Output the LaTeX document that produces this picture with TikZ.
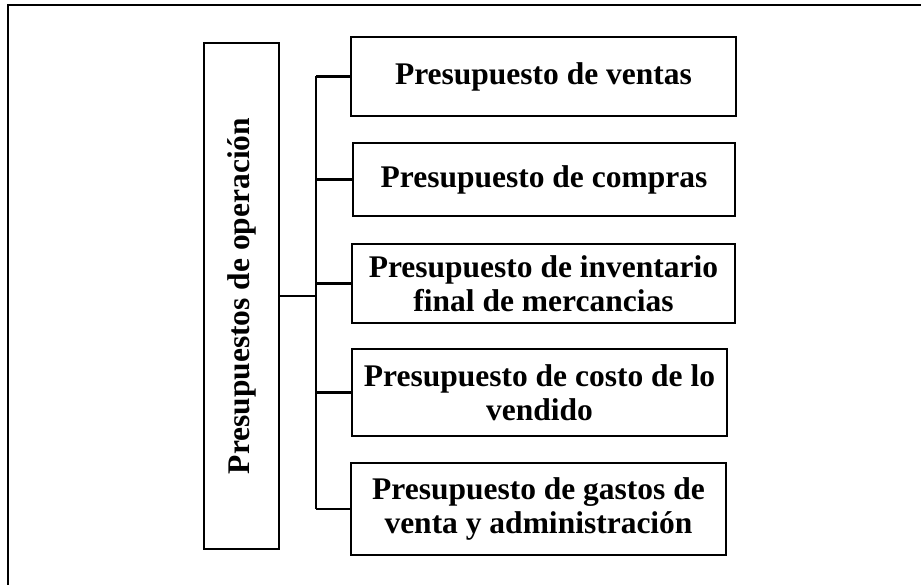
\documentclass[tikz,border=0pt]{standalone}
\usepackage{fontspec}
\setmainfont{Liberation Serif}
\begin{document}
\begin{tikzpicture}[x=1pt,y=-1pt,
  box/.style={draw=black,line width=2.5pt,inner sep=0pt,align=center,
    font=\fontsize{31.5}{34}\selectfont\bfseries},
  conn/.style={draw=black,line width=2.5pt},
  frameline/.style={draw=black,line width=1.5pt}]
\useasboundingbox (0,0) rectangle (921,585);
\draw[frameline] (8,585) -- (8,5) -- (921,5);
\node[box,minimum width=75pt,minimum height=506pt] (main) at (241.5,296)
  {\rotatebox{90}{Presupuestos de operación}};
\node[box,minimum width=385pt,minimum height=79pt] (b1) at (543.5,76.5) {Presupuesto de ventas};
\node[box,minimum width=382pt,minimum height=73pt] (b2) at (544,179.5) {Presupuesto de compras};
\node[box,minimum width=383pt,minimum height=79pt] (b3) at (543.5,283.5) {Presupuesto de inventario\\final de mercancias};
\node[box,minimum width=375pt,minimum height=87pt] (b4) at (539.5,392.5) {Presupuesto de costo de lo\\vendido};
\node[box,minimum width=375pt,minimum height=92pt] (b5) at (538.5,509) {Presupuesto de gastos de\\venta y administración};
\coordinate (trunk) at (316,0);
\draw[conn] (main.east) -- (main.east -| trunk);
\draw[conn] (b1.west -| trunk) -- (b5.west -| trunk);
\foreach \b in {b1,b2,b3,b4,b5}{
  \draw[conn] (\b.west -| trunk) -- (\b.west);
}
\end{tikzpicture}
\end{document}
